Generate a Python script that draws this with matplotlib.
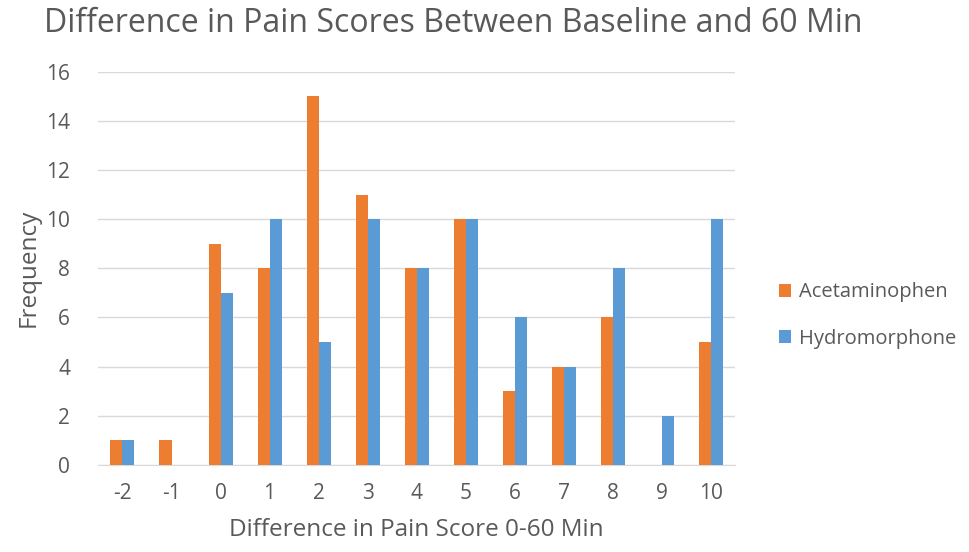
import matplotlib
matplotlib.use('Agg')
import matplotlib.pyplot as plt
import numpy as np

plt.rcParams['font.family'] = ['Open Sans', 'DejaVu Sans']

# data
diffs = ['-2', '-1', '0', '1', '2', '3', '4', '5', '6', '7', '8', '9', '10']
acetaminophen = [1, 1, 9, 8, 15, 11, 8, 10, 3, 4, 6, 0, 5]
hydromorphone = [1, 0, 7, 10, 5, 10, 8, 10, 6, 4, 8, 2, 10]

grey = '#595959'
x = np.arange(len(diffs))
w = 0.245

fig = plt.figure(figsize=(9.7, 5.52), dpi=100)
ax = fig.add_axes([0.101, 0.158, 0.657, 0.712])

ax.bar(x - w / 2, acetaminophen, w, color='#ED7D31', label='Acetaminophen', zorder=3)
ax.bar(x + w / 2, hydromorphone, w, color='#5B9BD5', label='Hydromorphone', zorder=3)

ax.set_xlim(-0.5, len(diffs) - 0.5)
ax.set_ylim(0, 16)
ax.set_yticks(range(0, 17, 2))
ax.set_xticks(x)
ax.set_xticklabels(diffs)
ax.yaxis.grid(True, color='#D9D9D9', lw=1, zorder=0)
for s in ['top', 'right', 'left']:
    ax.spines[s].set_visible(False)
ax.spines['bottom'].set_color('#D9D9D9')
ax.tick_params(axis='both', length=0, labelsize=15, colors=grey)
ax.tick_params(axis='y', pad=20)
ax.tick_params(axis='x', pad=13)

ax.set_xlabel('Difference in Pain Score 0-60 Min', fontsize=17.5, color=grey, labelpad=10)
ax.set_ylabel('Frequency', fontsize=17.5, color=grey, labelpad=4)
fig.text(0.467, 0.958, 'Difference in Pain Scores Between Baseline and 60 Min',
         ha='center', va='center', fontsize=23, color=grey)

leg = ax.legend(loc='center left', bbox_to_anchor=(1.04, 0.38), frameon=False,
                fontsize=14.5, handlelength=0.6, handleheight=0.6, labelspacing=1.3,
                handletextpad=0.4)
for t in leg.get_texts():
    t.set_color(grey)

fig.savefig('out.png', dpi=100)
